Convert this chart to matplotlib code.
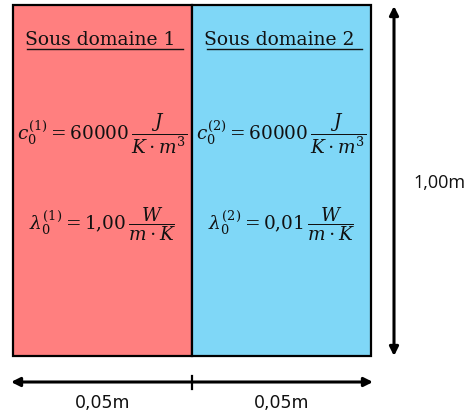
import matplotlib
matplotlib.use("Agg")
import matplotlib.pyplot as plt
from matplotlib.patches import Rectangle

# ---- data ----
domain_names = ["Sous domaine 1", "Sous domaine 2"]
widths_m = [0.05, 0.05]
height_m = 1.00
c0_values = ["60000", "60000"]
lambda_values = ["1{,}00", "0{,}01"]
width_labels = ["0,05m", "0,05m"]
height_label = "1,00m"
colors = ["#FF7F7F", "#7FD7F7"]

plt.rcParams["mathtext.fontset"] = "dejavuserif"

W, H = 466, 416
fig = plt.figure(figsize=(W / 100, H / 100), dpi=100)

# overlay in pixel coordinates
ov = fig.add_axes([0, 0, 1, 1])
ov.set_xlim(0, W)
ov.set_ylim(H, 0)
ov.axis("off")

# domain axes in metres
x0, x1, y0, y1 = 13, 371, 5, 356
ax = fig.add_axes([x0 / W, (H - y1) / H, (x1 - x0) / W, (y1 - y0) / H])
ax.set_xlim(0, sum(widths_m))
ax.set_ylim(0, height_m)
ax.axis("off")

mpp = sum(widths_m) / (x1 - x0)  # metres per pixel
left = 0.0
for i, w in enumerate(widths_m):
    ax.add_patch(Rectangle((left, 0), w, height_m, facecolor=colors[i],
                           edgecolor="black", linewidth=1.6, clip_on=False))
    cx = left + w / 2
    ax.text(cx - 2 * mpp, 0.900, domain_names[i], ha="center", va="center",
            fontsize=13.5, family="DejaVu Serif", color="#111111")
    ax.plot([cx - 75 * mpp, cx + 80 * mpp], [0.875, 0.875], color="#111111",
            linewidth=1.0, clip_on=False)
    k = i + 1
    ax.text(cx, 0.634,
            r"$c_0^{(%d)} = %s\,\dfrac{J}{K\cdot m^3}$" % (k, c0_values[i]),
            ha="center", va="center", fontsize=13.3, color="#111111")
    ax.text(cx, 0.376,
            r"$\lambda_0^{(%d)} = %s\,\dfrac{W}{m\cdot K}$" % (k, lambda_values[i]),
            ha="center", va="center", fontsize=13.3, color="#111111")
    left += w

# vertical dimension arrow
ax_px = lambda xm: x0 + xm / sum(widths_m) * (x1 - x0)
ov.annotate("", xy=(394, 6), xytext=(394, 356),
            arrowprops=dict(arrowstyle="<|-|>", color="black", lw=2.2,
                            mutation_scale=13, shrinkA=0, shrinkB=0))
ov.text(439, 183, height_label, ha="center", va="center", fontsize=13,
        family="Open Sans", color="#111111")

# horizontal dimension arrow
ov.annotate("", xy=(11, 382), xytext=(373, 382),
            arrowprops=dict(arrowstyle="<|-|>", color="black", lw=2.2,
                            mutation_scale=13, shrinkA=0, shrinkB=0))
ov.plot([ax_px(widths_m[0])] * 2, [376, 389], color="black", lw=1.6)
left = 0.0
for i, w in enumerate(widths_m):
    ov.text(ax_px(left + w / 2), 403, width_labels[i], ha="center", va="center",
            fontsize=12.5, family="DejaVu Sans", color="#111111")
    left += w

fig.savefig("out.png", dpi=100)
